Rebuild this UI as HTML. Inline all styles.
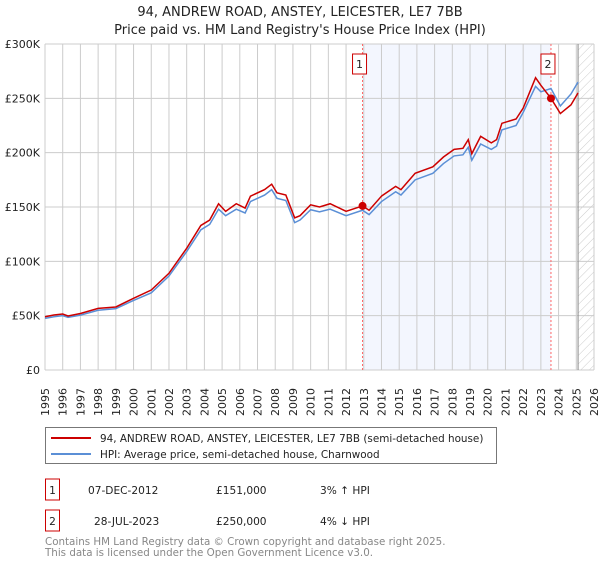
<!DOCTYPE html>
<html><head><meta charset="utf-8"><style>
body{margin:0;background:#fff;font-family:"DejaVu Sans","Liberation Sans",sans-serif;}
svg text{font-family:"DejaVu Sans","Liberation Sans",sans-serif;}
</style></head><body>
<svg id="c" width="600" height="560" xmlns="http://www.w3.org/2000/svg">
<defs><pattern id="hatch" width="6" height="6" patternUnits="userSpaceOnUse" patternTransform="rotate(45)"><line x1="0" y1="0" x2="0" y2="6" stroke="#ccc" stroke-width="1"/></pattern></defs>
<text x="300" y="16" text-anchor="middle" font-size="13" fill="#222">94, ANDREW ROAD, ANSTEY, LEICESTER, LE7 7BB</text>
<text x="300" y="34" text-anchor="middle" font-size="13" fill="#222">Price paid vs. HM Land Registry's House Price Index (HPI)</text>
<g id="plot"></g>
<rect x="45.5" y="427.5" width="451" height="36" fill="#fff" stroke="#777"/>
<line x1="51" y1="438" x2="91" y2="438" stroke="#cc0000" stroke-width="2"/>
<text x="100" y="442" font-size="10.4" fill="#222">94, ANDREW ROAD, ANSTEY, LEICESTER, LE7 7BB (semi-detached house)</text>
<line x1="51" y1="454" x2="91" y2="454" stroke="#5b8fd6" stroke-width="2"/>
<text x="100" y="458" font-size="10.4" fill="#222">HPI: Average price, semi-detached house, Charnwood</text>
<g font-size="10.6" fill="#222">
<rect x="45.5" y="479" width="14" height="21" fill="#fff" stroke="#cc0000"/>
<text x="52.5" y="494" text-anchor="middle">1</text>
<text x="88" y="494">07-DEC-2012</text>
<text x="216" y="494">£151,000</text>
<text x="320" y="494">3% ↑ HPI</text>
<rect x="45.5" y="510" width="14" height="21" fill="#fff" stroke="#cc0000"/>
<text x="52.5" y="525" text-anchor="middle">2</text>
<text x="94" y="525">28-JUL-2023</text>
<text x="216" y="525">£250,000</text>
<text x="320" y="525">4% ↓ HPI</text>
</g>
<text x="45" y="545" font-size="10.3" fill="#888">Contains HM Land Registry data © Crown copyright and database right 2025.</text>
<text x="45" y="556" font-size="10.3" fill="#888">This data is licensed under the Open Government Licence v3.0.</text>
</svg>
<script>
const yearTicks=[1995,1996,1997,1998,1999,2000,2001,2002,2003,2004,2005,2006,2007,2008,2009,2010,2011,2012,2013,2014,2015,2016,2017,2018,2019,2020,2021,2022,2023,2024,2025,2026];
const valueTicks=[0,50000,100000,150000,200000,250000,300000];
const valueLabels=["£0","£50K","£100K","£150K","£200K","£250K","£300K"];
const propDates=[1995.0,1995.5,1996.0,1996.3,1997.0,1998.0,1999.0,2000.0,2001.0,2002.0,2003.0,2003.8,2004.3,2004.8,2005.2,2005.8,2006.3,2006.6,2007.4,2007.8,2008.1,2008.6,2009.1,2009.4,2010.0,2010.5,2011.1,2012.0,2012.93,2013.3,2014.0,2014.8,2015.1,2015.9,2016.9,2017.5,2018.1,2018.6,2018.9,2019.1,2019.6,2020.2,2020.5,2020.8,2021.6,2022.0,2022.7,2023.0,2023.57,2024.1,2024.7,2025.1];
const propValues=[49000,50600,51500,49700,52000,56700,58000,66000,73600,89000,112000,133000,138000,153000,146000,153000,149000,160000,166000,171000,163000,161000,140000,142000,152000,150000,153000,146000,151000,147000,160000,169000,166000,181000,187000,196000,203000,204000,212000,199000,215000,209000,212000,227000,231000,241000,269000,262000,250000,236000,244000,255000];
const hpiDates=[1995.0,1995.5,1996.0,1996.3,1997.0,1998.0,1999.0,2000.0,2001.0,2002.0,2003.0,2003.8,2004.3,2004.8,2005.2,2005.8,2006.3,2006.6,2007.4,2007.8,2008.1,2008.6,2009.1,2009.4,2010.0,2010.5,2011.1,2012.0,2012.93,2013.3,2014.0,2014.8,2015.1,2015.9,2016.9,2017.5,2018.1,2018.6,2018.9,2019.1,2019.6,2020.2,2020.5,2020.8,2021.6,2022.0,2022.7,2023.0,2023.57,2024.1,2024.7,2025.1];
const hpiValues=[47500,49000,50000,48500,50500,55000,56500,64000,71000,86500,109000,129000,134000,148000,142000,148000,144500,155000,161000,166000,158000,156000,135600,138000,147500,145500,148000,142000,147000,143000,155000,164000,161000,175000,181000,190000,197000,198000,205000,193000,208000,203000,206000,221000,225000,237000,261000,256000,259000,243000,254000,265000];
const saleDates=[2012.93,2023.57];
const saleValues=[151000,250000];
const X0=45,X1=594,Y0=370,Y1=44;
const x=t=>X0+(t-1995)*(X1-X0)/31;
const y=v=>Y0-v*(Y0-Y1)/300000;
const NS="http://www.w3.org/2000/svg";
const g=document.getElementById('plot');
function mk(tag,attrs){const e=document.createElementNS(NS,tag);for(const k in attrs)e.setAttribute(k,attrs[k]);g.appendChild(e);return e;}
let e;
e=mk('rect',{x:x(saleDates[0]),y:Y1,width:x(saleDates[1])-x(saleDates[0]),height:Y0-Y1,fill:'#f3f6fe'});


e=mk('rect',{x:x(2025.1),y:Y1,width:X1-x(2025.1),height:Y0-Y1,fill:'url(#hatch)'});


yearTicks.forEach(t=>{
 e=mk('line',{x1:x(t),x2:x(t),y1:Y1,y2:Y0,stroke:'#ccc','stroke-width':1});
 
 
 e=mk('text',{x:0,y:0,'font-size':11,fill:'#222',transform:`translate(${x(t)+4},416) rotate(-90)`});
 e.textContent=t;
 
 
});
valueTicks.forEach((v,i)=>{
 e=mk('line',{x1:X0,x2:X1,y1:y(v),y2:y(v),stroke:'#ccc','stroke-width':1});
 
 
 e=mk('text',{x:40,y:y(v)+4,'font-size':11,fill:'#222','text-anchor':'end'});
 e.textContent=valueLabels[i];
 
 
});
e=mk('line',{x1:x(2025.1),x2:x(2025.1),y1:Y1,y2:Y0,stroke:'#888','stroke-width':1});


saleDates.forEach((d,i)=>{
 e=mk('line',{x1:x(d),x2:x(d),y1:Y1,y2:Y0,stroke:'#f66','stroke-width':1,'stroke-dasharray':'2,2'});
 
 
});
e=mk('polyline',{points:hpiDates.map((d,i)=>x(d)+','+y(hpiValues[i])).join(' '),fill:'none',stroke:'#5b8fd6','stroke-width':1.5});


e=mk('polyline',{points:propDates.map((d,i)=>x(d)+','+y(propValues[i])).join(' '),fill:'none',stroke:'#cc0000','stroke-width':1.5});


saleDates.forEach((d,i)=>{
 e=mk('circle',{cx:x(d),cy:y(saleValues[i]),r:4,fill:'#cc0000'});
 
 
 e=mk('rect',{x:x(d)-10,y:54,width:14,height:20,fill:'#fff',stroke:'#cc0000'});
 
 
 e=mk('text',{x:x(d)-3,y:68,'font-size':11,fill:'#222','text-anchor':'middle'});
 e.textContent=String(i+1);
 
 
});
</script>
</body></html>
